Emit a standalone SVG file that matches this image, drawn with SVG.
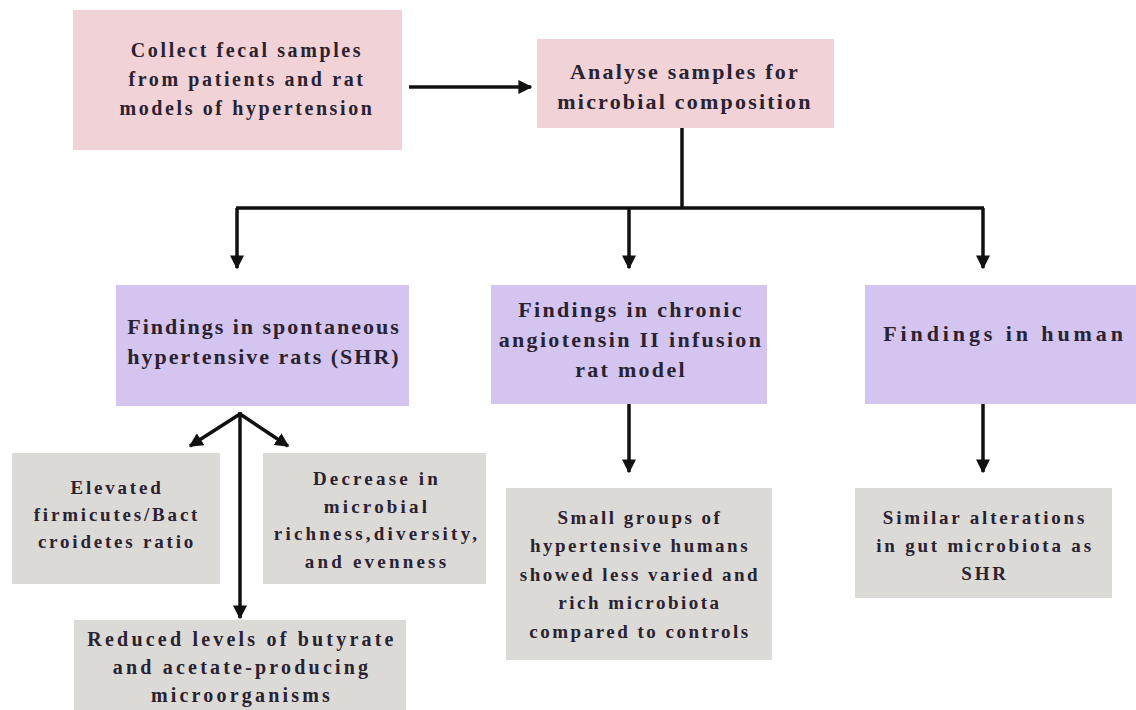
<svg xmlns="http://www.w3.org/2000/svg" width="1136" height="710" viewBox="0 0 1136 710">
<defs>
<marker id="ah" viewBox="0 0 10 10" refX="9" refY="5" markerWidth="4" markerHeight="4" orient="auto" markerUnits="strokeWidth">
<path d="M0,0 L10,5 L0,10 z" fill="#111"/>
</marker>
<style>
.pink{fill:#f0d2d7}
.lav{fill:#d3c5f0}
.gray{fill:#dcdad7}
text{font-family:"Liberation Serif","Times New Roman",serif;font-weight:bold;font-size:19px;letter-spacing:2.8px;fill:#2a2230;text-anchor:middle}
.t1 text{font-size:20px;letter-spacing:2.6px}
.t2 text{font-size:22px;letter-spacing:2.2px}
.t3 text{font-size:22px;letter-spacing:2.0px}
.t4 text{font-size:22px;letter-spacing:2.3px}
.t5 text{font-size:22px;letter-spacing:3.9px}
.t7 text{letter-spacing:3.2px}
.t8 text{font-size:20px;letter-spacing:3.2px}
.t9 text{letter-spacing:2.5px}
.c{stroke:#111;stroke-width:3.5;fill:none}
.a{marker-end:url(#ah)}
</style>
</defs>
<rect width="1136" height="710" fill="#ffffff"/>
<g id="n1" class="t1"><rect class="pink" x="73" y="10" width="329" height="140"/>
<text x="247" y="57">Collect fecal samples</text>
<text x="247" y="86">from patients and rat</text>
<text x="247" y="115">models of hypertension</text></g>
<g id="n2" class="t2"><rect class="pink" x="537" y="39" width="297" height="89"/>
<text x="685" y="79">Analyse samples for</text>
<text x="685" y="109">microbial composition</text></g>
<g id="n3" class="t3"><rect class="lav" x="116" y="285" width="293" height="121"/>
<text x="264" y="334">Findings in spontaneous</text>
<text x="264" y="364">hypertensive rats (SHR)</text></g>
<g id="n4" class="t4"><rect class="lav" x="491" y="285" width="276" height="119"/>
<text x="631" y="317">Findings in chronic</text>
<text x="631" y="347">angiotensin II infusion</text>
<text x="631" y="377">rat model</text></g>
<g id="n5" class="t5"><rect class="lav" x="865" y="285" width="271" height="119"/>
<text x="1005" y="341">Findings in human</text></g>
<g id="n6"><rect class="gray" x="12" y="453" width="208" height="131"/>
<text x="117" y="494">Elevated</text>
<text x="117" y="521">firmicutes/Bact</text>
<text x="117" y="548">croidetes ratio</text></g>
<g id="n7" class="t7"><rect class="gray" x="263" y="453" width="223" height="131"/>
<text x="377" y="485">Decrease in</text>
<text x="377" y="513">microbial</text>
<text x="377" y="540">richness,diversity,</text>
<text x="377" y="568">and evenness</text></g>
<g id="n8" class="t8"><rect class="gray" x="74" y="620" width="332" height="90"/>
<text x="242" y="646">Reduced levels of butyrate</text>
<text x="242" y="674">and acetate-producing</text>
<text x="242" y="702">microorganisms</text></g>
<g id="n9" class="t9"><rect class="gray" x="506" y="488" width="266" height="172"/>
<text x="640" y="524">Small groups of</text>
<text x="640" y="552">hypertensive humans</text>
<text x="640" y="581">showed less varied and</text>
<text x="640" y="609">rich microbiota</text>
<text x="640" y="638">compared to controls</text></g>
<g id="n10"><rect class="gray" x="855" y="488" width="257" height="110"/>
<text x="985" y="524">Similar alterations</text>
<text x="985" y="552">in gut microbiota as</text>
<text x="985" y="580">SHR</text></g>
<g id="connectors">
<line class="c a" x1="409" y1="87" x2="531" y2="87"/>
<polyline class="c" points="682,128 682,208"/>
<line class="c" x1="236" y1="208" x2="984" y2="208"/>
<line class="c a" x1="237" y1="208" x2="237" y2="268"/>
<line class="c a" x1="629" y1="208" x2="629" y2="268"/>
<line class="c a" x1="983" y1="208" x2="983" y2="268"/>
<line class="c a" x1="240" y1="414" x2="190" y2="446"/>
<line class="c a" x1="240" y1="414" x2="288" y2="446"/>
<line class="c a" x1="240" y1="412" x2="240" y2="618"/>
<line class="c a" x1="629" y1="404" x2="629" y2="472"/>
<line class="c a" x1="983" y1="404" x2="983" y2="472"/>
</g>
</svg>
